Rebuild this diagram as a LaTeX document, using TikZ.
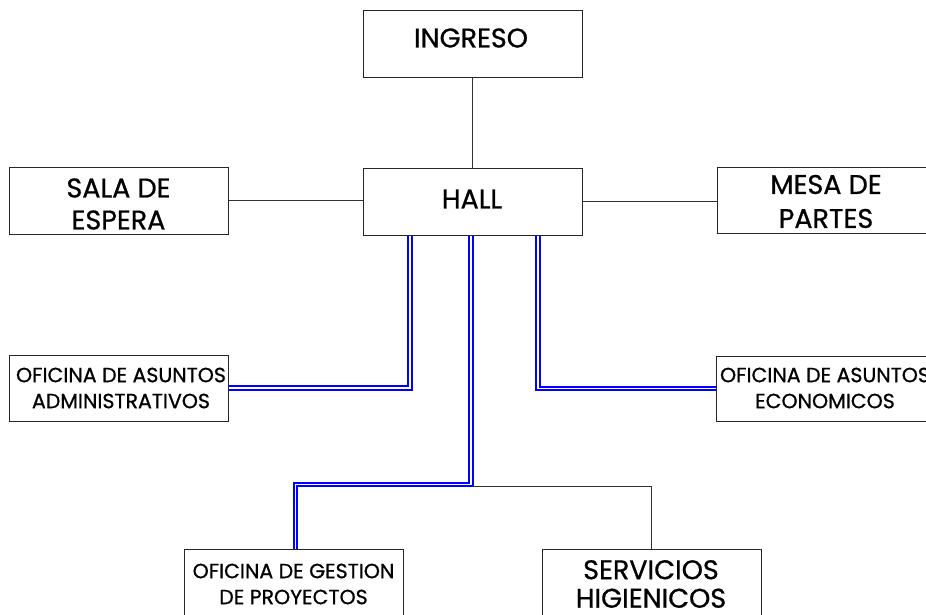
\documentclass[tikz,border=0pt]{standalone}
\usepackage{fontspec}
\setmainfont{Poppins}[FakeBold=0.8]
\begin{document}
\begin{tikzpicture}[x=1pt,y=-1pt,
  box/.style={draw=black!85,line width=1pt,rectangle,minimum width=219pt,inner sep=0pt},
  big/.style={align=center,inner sep=0pt,font=\fontsize{27}{32}\selectfont},
  small/.style={align=center,inner sep=0pt,font=\fontsize{20.5}{26}\selectfont},
  wire/.style={draw=black!80,line width=1pt},
  dbl/.style={draw=blue,double=white,line width=2pt,double distance=1.4pt}]
\useasboundingbox[fill=white] (0,0) rectangle (926,614);
\node[box,minimum height=67pt] (ingreso) at (472.5,43.5) {};
\node[box,minimum height=67pt] (hall) at (472.5,201.5) {};
\node[box,minimum height=67pt] (sala) at (118.5,200.5) {};
\node[box,minimum height=66pt] (mesa) at (826.5,200) {};
\node[box,minimum height=66pt] (admin) at (118.5,388) {};
\node[box,minimum height=65pt] (econ) at (825.5,388.5) {};
\node[box,minimum height=67pt] (gestion) at (293.5,582.5) {};
\node[box,minimum height=67pt] (serv) at (651.5,582.5) {};
\node[big] (ingresoT) at (471,38) {INGRESO};
\node[big] (hallT) at (472,199) {HALL};
\node[big] (salaT) at (118.5,204) {SALA DE\\ESPERA};
\node[big,font=\fontsize{27}{34}\selectfont] (mesaT) at (826,201.5) {MESA DE\\PARTES};
\node[small] (adminT) at (121,388) {OFICINA DE ASUNTOS\\ADMINISTRATIVOS};
\node[small] (econT) at (825,388) {OFICINA DE ASUNTOS\\ECONOMICOS};
\node[small] (gestionT) at (293.5,584) {OFICINA DE GESTION\\DE PROYECTOS};
\node[big,font=\fontsize{27}{28.5}\selectfont] (servT) at (651,584) {SERVICIOS\\HIGIENICOS};
\coordinate (j) at (471,484.5);
\coordinate (k) at (473,486);
\draw[wire] (ingreso) -- (hall);
\draw[wire] (sala.east) -- (sala.east -| hall.west);
\draw[wire] (hall.east) -- (hall.east -| mesa.west);
\draw[dbl] ([xshift=-62.5pt]hall.south) |- (admin.east);
\draw[dbl] ([xshift=65.5pt]hall.south) |- (econ.west);
\draw[dbl] ([xshift=-1.5pt]hall.south) -- (j) -| ([xshift=2pt]gestion.north);
\draw[wire] (k) -| (serv.north);
\end{tikzpicture}
\end{document}
